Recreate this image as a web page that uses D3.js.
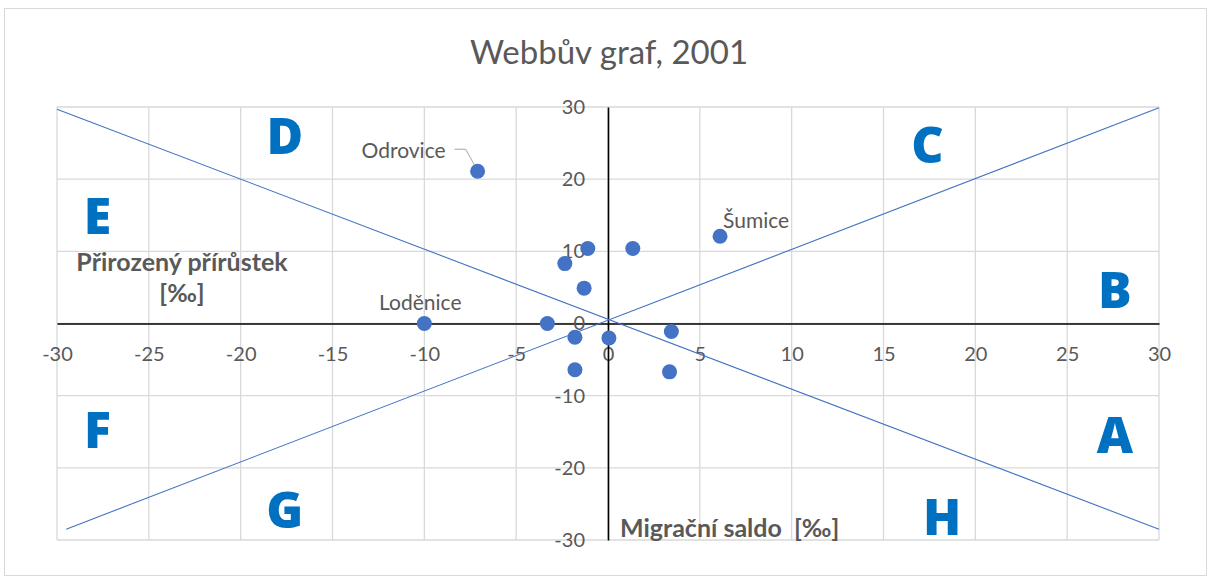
<!DOCTYPE html>
<html>
<head>
<meta charset="utf-8">
<script src="https://cdn.jsdelivr.net/npm/d3@7.9.0/dist/d3.min.js"></script>
<style>
  html, body { margin: 0; padding: 0; background: #fff; }
  svg { display: block; font-family: Lato, 'Open Sans', sans-serif; }
  .tick text { fill: #595959; font-size: 20px; font-family: Lato, sans-serif; }
</style>
</head>
<body>
<div id="chart"></div>
<script>
// migration balance (x) vs natural increase (y), per mille
const places = ['Odrovice', 'Šumice', 'Loděnice', '', '', '', '', '', '', '', '', '', ''];
const migration = [-7.1, 6.1, -10, -1.1, 1.35, -2.35, -1.3, -3.3, -1.8, 0.05, 3.45, -1.8, 3.35];
const natural = [21.1, 12.1, 0, 10.4, 10.4, 8.3, 4.9, 0, -1.9, -2.0, -1.1, -6.4, -6.7];

// Webb's dividing lines
const lineDesc = [[-30, 29.7], [30, -28.5]];
const lineAsc = [[-29.5, -28.5], [30, 29.9]];

const xTicks = d3.range(-30, 31, 5);
const yTicks = d3.range(-30, 31, 10);

// sector letters [letter, x, y]
const sectors = [
  ['D', -17.6, 26.0], ['C', 17.4, 24.8], ['E', -27.8, 14.9], ['B', 27.6, 4.6],
  ['F', -27.8, -14.8], ['A', 27.6, -15.4], ['G', -17.6, -25.8], ['H', 18.2, -26.8]
];

const width = 1209, height = 581;
const svg = d3.select('#chart').append('svg')
  .attr('width', width)
  .attr('height', height);

svg.append('rect')
  .attr('x', 4.5).attr('y', 8.5)
  .attr('width', 1202).attr('height', 567)
  .attr('fill', 'none')
  .attr('stroke', '#d9d9d9');

const x = d3.scaleLinear().domain([-30, 30]).range([57, 1159]);
const y = d3.scaleLinear().domain([-30, 30]).range([540, 107]);

svg.append('text')
  .attr('x', 609).attr('y', 64)
  .attr('text-anchor', 'middle')
  .attr('fill', '#595959')
  .style('font-size', '33px')
  .text('Webbův graf, 2001');

// gridlines
const grid = svg.append('g').attr('stroke', '#d9d9d9').attr('stroke-width', 1.3);
grid.selectAll('.vg').data(xTicks).join('line')
  .attr('x1', d => x(d)).attr('x2', d => x(d))
  .attr('y1', y(30)).attr('y2', y(-30));
grid.selectAll('.hg').data(yTicks).join('line')
  .attr('x1', x(-30)).attr('x2', x(30))
  .attr('y1', d => y(d)).attr('y2', d => y(d));

// axes through the origin
const fmt = d => String(d);
const xAxis = svg.append('g')
  .attr('transform', `translate(0,${y(0)})`)
  .call(d3.axisBottom(x).tickValues(xTicks).tickFormat(fmt).tickSize(0).tickPadding(23));
xAxis.select('.domain').attr('stroke', '#000').attr('stroke-width', 1.6);

const yAxis = svg.append('g')
  .attr('transform', `translate(${x(0)},0)`)
  .call(d3.axisLeft(y).tickValues(yTicks).tickFormat(fmt).tickSize(0).tickPadding(23));
yAxis.select('.domain').attr('stroke', '#000').attr('stroke-width', 1.6);

// dividing lines
const lineGen = d3.line().x(d => x(d[0])).y(d => y(d[1]));
svg.selectAll('.div').data([lineDesc, lineAsc]).join('path')
  .attr('d', lineGen)
  .attr('fill', 'none')
  .attr('stroke', '#4472C4')
  .attr('stroke-width', 1.1);

// sector letters
svg.selectAll('.sector').data(sectors).join('text')
  .attr('x', d => x(d[1])).attr('y', d => y(d[2]))
  .attr('text-anchor', 'middle')
  .attr('dy', '0.36em')
  .attr('fill', '#0070C0')
  .style('font-family', "'Open Sans', sans-serif")
  .style('font-weight', 800)
  .style('font-size', '50px')
  .text(d => d[0]);

// axis titles
svg.append('text')
  .attr('x', 620).attr('y', 537)
  .attr('fill', '#595959')
  .style('font-weight', 700).style('font-size', '25px')
  .attr('xml:space', 'preserve')
  .text('Migrační saldo  [‰]');
svg.append('text')
  .attr('x', 182).attr('y', 271)
  .attr('text-anchor', 'middle')
  .attr('fill', '#595959')
  .style('font-weight', 700).style('font-size', '25px')
  .text('Přirozený přírůstek');
svg.append('text')
  .attr('x', 182).attr('y', 302)
  .attr('text-anchor', 'middle')
  .attr('fill', '#595959')
  .style('font-weight', 700).style('font-size', '25px')
  .text('[‰]');

// points
const pts = migration.map((m, i) => ({ name: places[i], m, n: natural[i] }));
svg.selectAll('.pt').data(pts).join('circle')
  .attr('cx', d => x(d.m)).attr('cy', d => y(d.n))
  .attr('r', 7.5)
  .attr('fill', '#4472C4');

// point labels
const odr = pts[0], sum = pts[1], lod = pts[2];
svg.append('path')
  .attr('d', `M${x(odr.m) - 23},${y(odr.n) - 22}H${x(odr.m) - 12}L${x(odr.m) - 3},${y(odr.n) - 6}`)
  .attr('fill', 'none').attr('stroke', '#a6a6a6').attr('stroke-width', 1);
const lbl = svg.append('g').attr('fill', '#595959').style('font-size', '21px');
lbl.append('text').attr('x', x(odr.m) - 32).attr('y', y(odr.n) - 13)
  .attr('text-anchor', 'end').text(odr.name);
lbl.append('text').attr('x', x(sum.m) + 3).attr('y', y(sum.n) - 8)
  .text(sum.name);
lbl.append('text').attr('x', x(lod.m) - 4).attr('y', y(lod.n) - 14)
  .attr('text-anchor', 'middle').text(lod.name);
</script>
</body>
</html>
